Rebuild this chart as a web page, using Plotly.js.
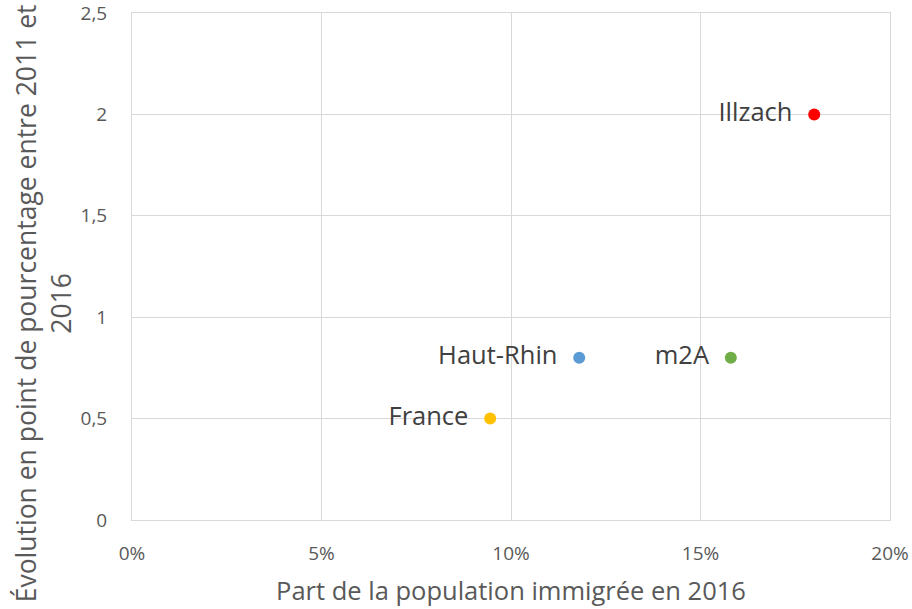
<!DOCTYPE html>
<html><head><meta charset="utf-8">
<script src="https://cdn.plot.ly/plotly-3.0.1.min.js"></script>
<style>body{margin:0}#c{width:912px;height:609px}</style>
</head><body><div id="c"></div>
<script>
const names = ["Illzach", "Haut-Rhin", "m2A", "France"];
const partImmigree = [0.180, 0.118, 0.158, 0.0945];
const evolution = [2.0, 0.8, 0.8, 0.5];
const colors = ["#ff0000", "#5b9bd5", "#70ad47", "#ffc000"];
const yTicks = [0, 0.5, 1, 1.5, 2, 2.5];
const xTicks = [0, 0.05, 0.10, 0.15, 0.20];

const traces = names.map((n, i) => ({
  type: "scatter", mode: "markers+text",
  x: [partImmigree[i]], y: [evolution[i]],
  text: [n + "  "], textposition: "middle left",
  textfont: {family: "Open Sans", size: 25.5, color: "#404040"},
  marker: {size: 12, color: colors[i]},
  cliponaxis: false, hoverinfo: "none", showlegend: false
}));

const layout = {
  width: 912, height: 609,
  margin: {l: 132, r: 22, t: 13, b: 89},
  paper_bgcolor: "#fff", plot_bgcolor: "#fff",
  separators: ", ",
  font: {family: "Open Sans", color: "#595959"},
  xaxis: {
    range: [0, 0.2], tickvals: xTicks, tickformat: ".0%",
    showgrid: true, gridcolor: "#d9d9d9", gridwidth: 1,
    showline: true, linecolor: "#d9d9d9", mirror: true, zeroline: false,
    ticks: "", ticklabelstandoff: 16, ticklabeloverflow: "allow",
    tickfont: {size: 19, color: "#595959"},
    title: {text: "Part de la population immigrée en 2016", font: {size: 25.5, color: "#595959"}, standoff: 17}
  },
  yaxis: {
    range: [0, 2.5], tickvals: yTicks,
    showgrid: true, gridcolor: "#d9d9d9", gridwidth: 1,
    showline: true, linecolor: "#d9d9d9", mirror: true, zeroline: false,
    ticks: "", ticklabelstandoff: 20, ticklabeloverflow: "allow",
    tickfont: {size: 19, color: "#595959"}
  },
  annotations: [{
    text: "Évolution en point de pourcentage entre 2011 et<br>2016",
    xref: "paper", yref: "paper", x: -0.117, y: 0.428,
    xanchor: "center", yanchor: "middle", textangle: -90, showarrow: false,
    font: {family: "Open Sans", size: 26.5, color: "#595959"}
  }]
};
Plotly.newPlot("c", traces, layout, {displayModeBar: false, staticPlot: true});
</script></body></html>
